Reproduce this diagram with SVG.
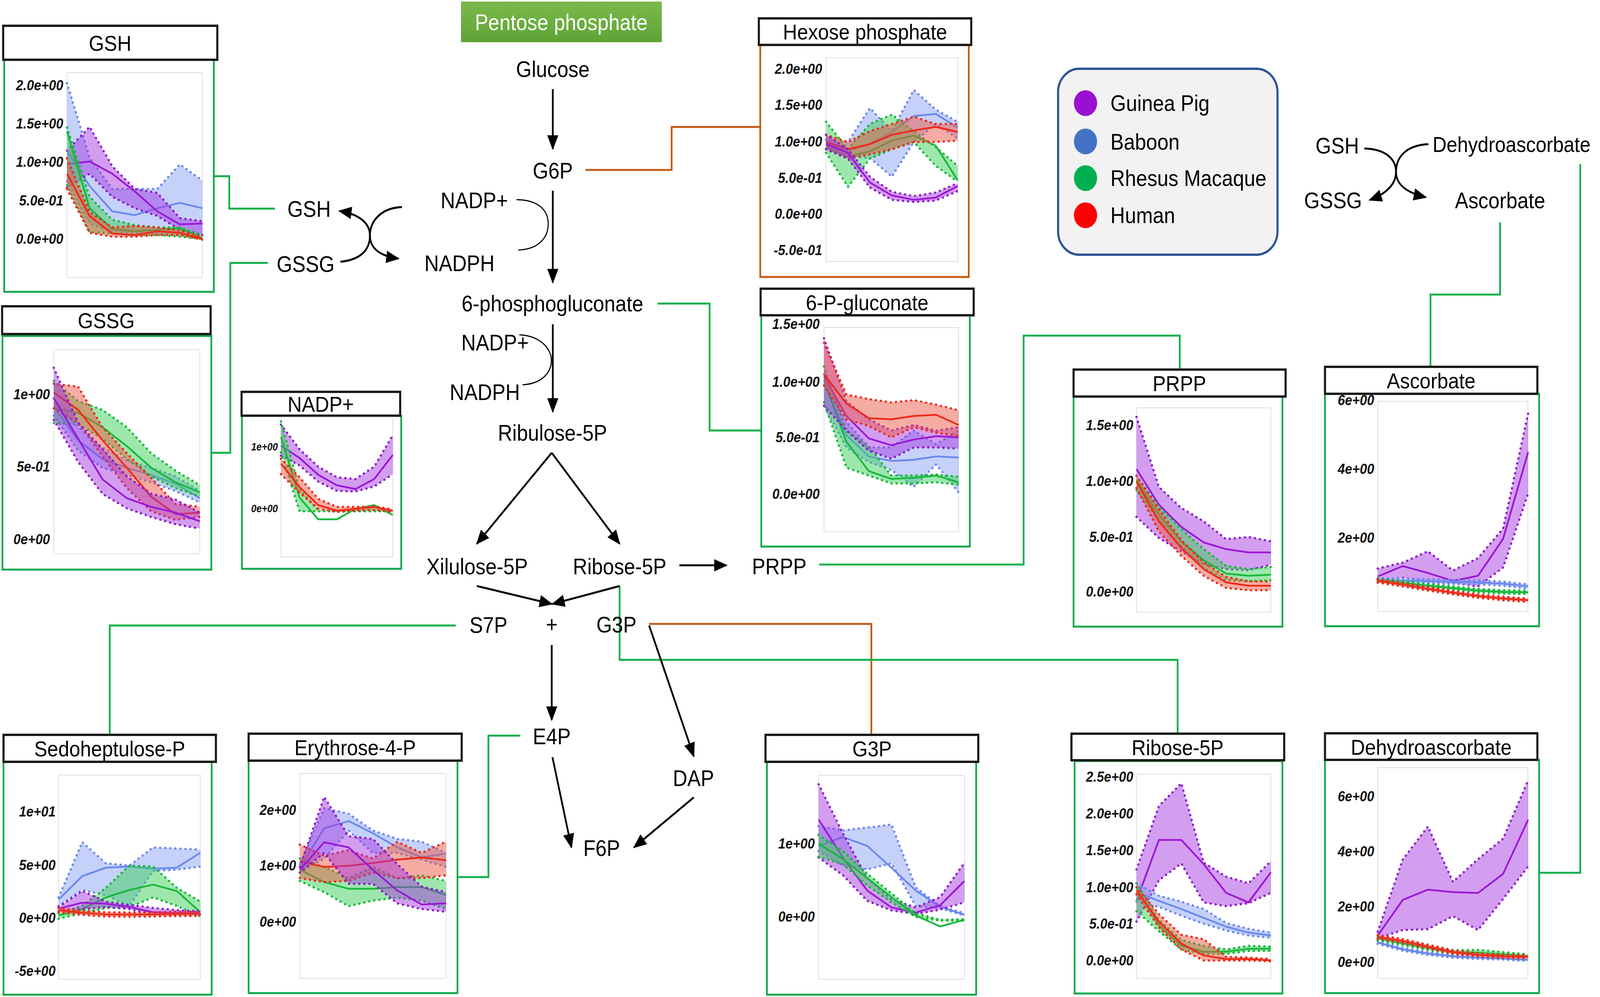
<svg xmlns="http://www.w3.org/2000/svg" width="4550" height="2552" viewBox="0 0 4550 2552">
<defs>
<linearGradient id="pg" x1="0" y1="0" x2="0" y2="1"><stop offset="0" stop-color="#7cb94c"/><stop offset="1" stop-color="#5ea336"/></linearGradient>
<marker id="ah" viewBox="0 0 12 10" refX="11" refY="5" markerWidth="38" markerHeight="32" markerUnits="userSpaceOnUse" orient="auto"><path d="M0,0 L12,5 L0,10 z" fill="#000"/></marker>
<style>
text{font-family:"Liberation Sans",Arial,sans-serif;fill:#000}
.lb{font-size:57px;text-anchor:middle}
.ls{font-size:57px}
.tt{font-size:56px;text-anchor:middle}
.tk{font-size:37px;font-weight:bold;font-style:italic;text-anchor:end;fill:#111}
.tks{font-size:27px;font-weight:bold;font-style:italic;text-anchor:end;fill:#111}
.tb{fill:#fff;stroke:#1a1a1a;stroke-width:6}
.gb{fill:#fff;stroke:#12a84a;stroke-width:5}
.ob{fill:#fff;stroke:#c55a11;stroke-width:5}
.pl{fill:#fff;stroke:#dcdcdc;stroke-width:2}
.cg{fill:none;stroke:#12b04a;stroke-width:5}
.co{fill:none;stroke:#c55a11;stroke-width:5}
.ar{fill:none;stroke:#000;stroke-width:5;marker-end:url(#ah)}
.arc{fill:none;stroke:#000;stroke-width:3}
.fp{fill:#a335e0;fill-opacity:.48}
.fb{fill:#7f98f2;fill-opacity:.45}
.fg{fill:#3ccf5a;fill-opacity:.5}
.fr{fill:#ec5a45;fill-opacity:.5}
.lp,.lb2,.lg,.lr{fill:none;stroke-width:4.5;vector-effect:non-scaling-stroke;stroke-linejoin:round}
.lp{stroke:#9b18d8}.lb2{stroke:#6a88f0}.lg{stroke:#18b83c}.lr{stroke:#ee2a1a}
.dp,.db,.dg,.dr{fill:none;stroke-width:6;stroke-dasharray:0 13;stroke-linecap:round;vector-effect:non-scaling-stroke}
.dp{stroke:#8e1bd0}.db{stroke:#6a88f0}.dg{stroke:#14b838}.dr{stroke:#ee2a1a}
</style>
</defs>
<rect width="4550" height="2552" fill="#fff"/>
<g id="diagram" transform="scale(0.9002,1)">

<g id="connectors">
<path class="cg" d="M604,451 H652 V534 H782"/>
<path class="cg" d="M600,1159 H655 V673 H762"/>
<path class="co" d="M1665,435 H1910 V325 H2162"/>
<path class="cg" d="M1870,777 H2018 V1102 H2165"/>
<path class="cg" d="M2330,1445 H2911 V859 H3355 V946"/>
<path class="cg" d="M4266,569 V754 H4068 V939"/>
<path class="cg" d="M4494,420 V2234 H4377"/>
<path class="cg" d="M1296,1601 H312 V1881"/>
<path class="cg" d="M1480,1883 H1389 V2245 H1300"/>
<path class="co" d="M1846,1597 H2478 V1881"/>
<path class="cg" d="M1762,1500 V1689 H3349 V1878"/>
<path class="ar" d="M1572,228 V381"/>
<path class="ar" d="M1572,488 V723"/>
<path class="ar" d="M1572,830 V1054"/>
<path class="ar" d="M1569,1159 L1356,1392"/>
<path class="ar" d="M1569,1159 L1762,1392"/>
<path class="ar" d="M1932,1447 H2066"/>
<path class="ar" d="M1356,1500 L1569,1546"/>
<path class="ar" d="M1762,1500 L1571,1546"/>
<path class="ar" d="M1569,1651 V1843"/>
<path class="ar" d="M1846,1601 L1973,1936"/>
<path class="ar" d="M1571,1938 L1625,2169"/>
<path class="ar" d="M1973,2041 L1803,2169"/>
<path class="arc" d="M1469,511 C1540,512 1560,545 1559,575 C1558,610 1530,638 1474,640"/>
<path class="arc" d="M1477,857 C1540,860 1568,895 1568,922 C1568,955 1540,982 1486,985"/>
<path class="ar" d="M968,670 C1025,665 1052,640 1052,603 C1052,570 1020,548 965,540"/>
<path class="ar" d="M1143,530 C1085,532 1052,565 1052,603 C1052,635 1080,655 1133,662"/>
<path class="ar" d="M3880,380 C3945,382 3970,410 3970,440 C3970,470 3945,495 3895,512"/>
<path class="ar" d="M4062,369 C3995,372 3970,405 3970,440 C3970,470 3995,492 4055,505"/>
</g>

<g id="pathway-title"><rect x="1311" y="4" width="571" height="104" fill="url(#pg)"/><text class="lb" x="1596" y="77" style="fill:#fff">Pentose phosphate</text></g>
<g id="metabolites">
<text class="lb" x="1572" y="197">Glucose</text>
<text class="lb" x="1572" y="457">G6P</text>
<text class="ls" x="1253" y="533">NADP+</text>
<text class="ls" x="1207" y="694">NADPH</text>
<text class="lb" x="1571" y="797">6-phosphogluconate</text>
<text class="ls" x="1312" y="897">NADP+</text>
<text class="ls" x="1279" y="1024">NADPH</text>
<text class="lb" x="1571" y="1128">Ribulose-5P</text>
<text class="lb" x="1357" y="1470">Xilulose-5P</text>
<text class="lb" x="1762" y="1470">Ribose-5P</text>
<text class="lb" x="2216" y="1470">PRPP</text>
<text class="lb" x="1389" y="1620">S7P</text>
<text class="lb" x="1569" y="1618">+</text>
<text class="lb" x="1753" y="1619">G3P</text>
<text class="lb" x="1569" y="1905">E4P</text>
<text class="lb" x="1972" y="2012">DAP</text>
<text class="lb" x="1711" y="2191">F6P</text>
<text class="lb" x="879" y="555">GSH</text>
<text class="lb" x="869" y="696">GSSG</text>
<text class="lb" x="3803" y="393">GSH</text>
<text class="ls" x="4074" y="389" style="font-size:55px">Dehydroascorbate</text>
<text class="lb" x="3791" y="533">GSSG</text>
<text class="lb" x="4266" y="533">Ascorbate</text>
</g>

<g id="legend">
<rect x="3009" y="176" width="624" height="476" rx="60" ry="60" fill="#f2f2f2" stroke="#2f5597" stroke-width="6"/>
<circle cx="3087" cy="264" r="33" fill="#9a10d0"/>
<circle cx="3087" cy="362" r="33" fill="#4472c4"/>
<circle cx="3087" cy="456" r="33" fill="#00b050"/>
<circle cx="3087" cy="551" r="33" fill="#ff0000"/>
<text class="ls" x="3158" y="284">Guinea Pig</text>
<text class="ls" x="3158" y="383">Baboon</text>
<text class="ls" x="3158" y="476">Rhesus Macaque</text>
<text class="ls" x="3158" y="571">Human</text>
</g>

<g id="chart-gsh">
<rect class="gb" x="12" y="153" width="596" height="594"/>
<rect class="tb" x="9" y="66" width="609" height="87"/>
<text class="tt" x="313" y="130">GSH</text>
<rect class="pl" x="190.6" y="185.8" width="385" height="525"/>
<text class="tk" x="180" y="231">2.0e+00</text><text class="tk" x="180" y="329">1.5e+00</text><text class="tk" x="180" y="427">1.0e+00</text><text class="tk" x="180" y="526">5.0e-01</text><text class="tk" x="180" y="624">0.0e+00</text>
<g transform="translate(190.6,621.4) scale(64.17,-196.5)">
<polygon class="fb" points="0,2.08 1,1.11 2,0.7 3,0.7 4,0.7 5,1.02 6,0.81 6,0.08 5,0.1 4,0.12 3,0.12 2,0.15 1,0.25 0,0.8"/>
<polyline class="db" points="0,2.08 1,1.11 2,0.7 3,0.7 4,0.7 5,1.02 6,0.81"/><polyline class="db" points="0,0.8 1,0.25 2,0.15 3,0.12 4,0.12 5,0.1 6,0.08"/>
<polyline class="lb2" points="0,1.2 1,0.74 2,0.41 3,0.36 4,0.45 5,0.52 6,0.45"/>
<polygon class="fp" points="0,1.2 1,1.51 2,1.0 3,0.7 4,0.65 5,0.32 6,0.28 6,0.1 5,0.17 4,0.35 3,0.45 2,0.6 1,0.9 0,0.72"/>
<polyline class="dp" points="0,1.2 1,1.51 2,1.0 3,0.7 4,0.65 5,0.32 6,0.28"/><polyline class="dp" points="0,0.72 1,0.9 2,0.6 3,0.45 4,0.35 5,0.17 6,0.1"/>
<polyline class="lp" points="0,1.02 1,1.06 2,0.9 3,0.67 4,0.41 5,0.24 6,0.25"/>
<polygon class="fg" points="0,1.5 1,0.6 2,0.3 3,0.23 4,0.2 5,0.2 6,0.1 6,0.05 5,0.08 4,0.1 3,0.1 2,0.12 1,0.14 0,0.75"/>
<polyline class="dg" points="0,1.5 1,0.6 2,0.3 3,0.23 4,0.2 5,0.2 6,0.1"/><polyline class="dg" points="0,0.75 1,0.14 2,0.12 3,0.1 4,0.1 5,0.08 6,0.05"/>
<polyline class="lg" points="0,1.45 1,0.45 2,0.18 3,0.15 4,0.17 5,0.19 6,0.06"/>
<polygon class="fr" points="0,1.1 1,0.4 2,0.2 3,0.22 4,0.2 5,0.16 6,0.08 6,0.04 5,0.1 4,0.1 3,0.08 2,0.08 1,0.13 0,0.7"/>
<polyline class="dr" points="0,1.1 1,0.4 2,0.2 3,0.22 4,0.2 5,0.16 6,0.08"/><polyline class="dr" points="0,0.7 1,0.13 2,0.08 3,0.08 4,0.1 5,0.1 6,0.04"/>
<polyline class="lr" points="0,0.9 1,0.35 2,0.12 3,0.1 4,0.15 5,0.13 6,0.05"/>
</g>
</g>

<g id="chart-gssg">
<rect class="gb" x="7" y="860" width="594" height="598"/>
<rect class="tb" x="6" y="784" width="593" height="71"/>
<text class="tt" x="302" y="840">GSSG</text>
<rect class="pl" x="153" y="895.5" width="415" height="522"/>
<text class="tk" x="142" y="1022">1e+00</text><text class="tk" x="142" y="1207">5e-01</text><text class="tk" x="142" y="1393">0e+00</text>
<g transform="translate(153,1390) scale(69.2,-370.6)">
<polygon class="fb" points="0,1.0 1,0.8 2,0.66 3,0.57 4,0.52 5,0.46 6,0.36 6,0.28 5,0.36 4,0.42 3,0.47 2,0.52 1,0.64 0,0.88"/>
<polyline class="db" points="0,1.0 1,0.8 2,0.66 3,0.57 4,0.52 5,0.46 6,0.36"/><polyline class="db" points="0,0.88 1,0.64 2,0.52 3,0.47 4,0.42 5,0.36 6,0.28"/>
<polyline class="lb2" points="0,0.94 1,0.71 2,0.58 3,0.52 4,0.47 5,0.41 6,0.31"/>
<polygon class="fg" points="0,1.12 1,0.98 2,0.92 3,0.8 4,0.62 5,0.5 6,0.4 6,0.32 5,0.38 4,0.46 3,0.58 2,0.72 1,0.82 0,0.83"/>
<polyline class="dg" points="0,1.12 1,0.98 2,0.92 3,0.8 4,0.62 5,0.5 6,0.4"/><polyline class="dg" points="0,0.83 1,0.82 2,0.72 3,0.58 4,0.46 5,0.38 6,0.32"/>
<polyline class="lg" points="0,0.93 1,0.9 2,0.8 3,0.67 4,0.52 5,0.42 6,0.35"/>
<polygon class="fr" points="0,1.1 1,1.08 2,0.8 3,0.62 4,0.45 5,0.27 6,0.25 6,0.18 5,0.16 4,0.22 3,0.38 2,0.6 1,0.83 0,0.93"/>
<polyline class="dr" points="0,1.1 1,1.08 2,0.8 3,0.62 4,0.45 5,0.27 6,0.25"/><polyline class="dr" points="0,0.93 1,0.83 2,0.6 3,0.38 4,0.22 5,0.16 6,0.18"/>
<polyline class="lr" points="0,1.04 1,0.92 2,0.71 3,0.52 4,0.32 5,0.2 6,0.21"/>
<polygon class="fp" points="0,1.21 1,0.83 2,0.65 3,0.46 4,0.34 5,0.3 6,0.21 6,0.1 5,0.13 4,0.18 3,0.24 2,0.34 1,0.56 0,0.85"/>
<polyline class="dp" points="0,1.21 1,0.83 2,0.65 3,0.46 4,0.34 5,0.3 6,0.21"/><polyline class="dp" points="0,0.85 1,0.56 2,0.34 3,0.24 4,0.18 5,0.13 6,0.1"/>
<polyline class="lp" points="0,1.0 1,0.72 2,0.44 3,0.31 4,0.25 5,0.21 6,0.15"/>
</g>
</g>

<g id="chart-nadp">
<rect class="gb" x="688" y="1064" width="453" height="392"/>
<rect class="tb" x="687" y="1003" width="451" height="61"/>
<text class="tt" x="912" y="1054">NADP+</text>
<rect class="pl" x="799" y="1067.7" width="318" height="358"/>
<text class="tks" x="790" y="1153">1e+00</text><text class="tks" x="790" y="1311">0e+00</text>
<g transform="translate(799,1308.7) scale(53,-158.4)">
<polygon class="fp" points="0,1.4 1,1.0 2,0.72 3,0.55 4,0.52 5,0.72 6,1.23 6,0.6 5,0.4 4,0.32 3,0.33 2,0.48 1,0.74 0,0.9"/>
<polyline class="dp" points="0,1.4 1,1.0 2,0.72 3,0.55 4,0.52 5,0.72 6,1.23"/><polyline class="dp" points="0,0.9 1,0.74 2,0.48 3,0.33 4,0.32 5,0.4 6,0.6"/>
<polyline class="lp" points="0,1.06 1,0.86 2,0.59 3,0.42 4,0.36 5,0.52 6,0.91"/>
<polygon class="fg" points="0,1.45 1,0.35 2,0.02 3,0.02 4,0.04 5,0.05 6,0.02 6,0 5,0 4,0 3,0 2,0 1,0 0,0.95"/>
<polyline class="dg" points="0,1.45 1,0.35 2,0.02"/><polyline class="dg" points="0,0.95 1,0 2,0 3,0 4,0 5,0 6,0"/>
<polyline class="lg" points="0,1.2 1,0.22 2,-0.13 3,-0.13 4,0.04 5,0.1 6,-0.06"/>
<polygon class="fr" points="0,0.85 1,0.55 2,0.2 3,0.07 4,0.07 5,0.08 6,0.03 6,-0.01 5,0.02 4,0.01 3,-0.01 2,0.04 1,0.3 0,0.6"/>
<polyline class="dr" points="0,0.85 1,0.55 2,0.2 3,0.07 4,0.07 5,0.08 6,0.03"/><polyline class="dr" points="0,0.6 1,0.3 2,0.04 3,-0.01 4,0.01 5,0.02 6,-0.01"/>
<polyline class="lr" points="0,0.77 1,0.39 2,0.1 3,0.01 4,0.04 5,0.07 6,0.01"/>
</g>
</g>

<g id="chart-hexose">
<rect class="ob" x="2162" y="115" width="593" height="594"/>
<rect class="tb" x="2158" y="47" width="604" height="68"/>
<text class="tt" x="2460" y="101">Hexose phosphate</text>
<rect class="pl" x="2349" y="148" width="375" height="521"/>
<text class="tk" x="2338" y="189">2.0e+00</text><text class="tk" x="2338" y="281">1.5e+00</text><text class="tk" x="2338" y="375">1.0e+00</text><text class="tk" x="2338" y="468">5.0e-01</text><text class="tk" x="2338" y="560">0.0e+00</text><text class="tk" x="2338" y="653">-5.0e-01</text>
<g transform="translate(2349,557.6) scale(62.4,-184.8)">
<polygon class="fb" points="0,1.08 1,1.05 2,1.52 3,1.2 4,1.77 5,1.5 6,1.33 6,1.1 5,1.3 4,1.05 3,0.57 2,0.83 1,0.85 0,0.95"/>
<polyline class="db" points="0,1.08 1,1.05 2,1.52 3,1.2 4,1.77 5,1.5 6,1.33"/><polyline class="db" points="0,0.95 1,0.85 2,0.83 3,0.57 4,1.05 5,1.3 6,1.1"/>
<polyline class="lb2" points="0,1.04 1,0.92 2,1.03 3,1.19 4,1.41 5,1.44 6,1.25"/>
<polygon class="fg" points="0,1.33 1,0.95 2,1.3 3,1.43 4,1.2 5,0.98 6,0.72 6,0.5 5,0.72 4,1.05 3,0.95 2,0.82 1,0.43 0,0.9"/>
<polyline class="dg" points="0,1.33 1,0.95 2,1.3 3,1.43 4,1.2 5,0.98 6,0.72"/><polyline class="dg" points="0,0.9 1,0.43 2,0.82 3,0.95 4,1.05 5,0.72 6,0.5"/>
<polyline class="lg" points="0,0.98 1,0.85 2,0.92 3,1.07 4,1.14 5,1.0 6,0.52"/>
<polygon class="fr" points="0,1.15 1,1.05 2,1.2 3,1.3 4,1.4 5,1.3 6,1.3 6,1.07 5,1.05 4,1.05 3,0.95 2,0.88 1,0.82 0,0.95"/>
<polyline class="dr" points="0,1.15 1,1.05 2,1.2 3,1.3 4,1.4 5,1.3 6,1.3"/><polyline class="dr" points="0,0.95 1,0.82 2,0.88 3,0.95 4,1.05 5,1.05 6,1.07"/>
<polyline class="lr" points="0,1.05 1,0.95 2,1.02 3,1.15 4,1.21 5,1.26 6,1.19"/>
<polygon class="fp" points="0,1.15 1,0.95 2,0.57 3,0.36 4,0.3 5,0.35 6,0.48 6,0.37 5,0.24 4,0.22 3,0.25 2,0.42 1,0.82 0,0.95"/>
<polyline class="dp" points="0,1.15 1,0.95 2,0.57 3,0.36 4,0.3 5,0.35 6,0.48"/><polyline class="dp" points="0,0.95 1,0.82 2,0.42 3,0.25 4,0.22 5,0.24 6,0.37"/>
<polyline class="lp" points="0,1.02 1,0.9 2,0.49 3,0.31 4,0.25 5,0.28 6,0.44"/>
</g>
</g>

<g id="chart-6pg">
<rect class="gb" x="2165" y="807" width="593" height="592"/>
<rect class="tb" x="2163" y="739" width="606" height="68"/>
<text class="tt" x="2466" y="794">6-P-gluconate</text>
<rect class="pl" x="2343.3" y="838.3" width="383" height="523"/>
<text class="tk" x="2331" y="842">1.5e+00</text><text class="tk" x="2331" y="990">1.0e+00</text><text class="tk" x="2331" y="1132">5.0e-01</text><text class="tk" x="2331" y="1277">0.0e+00</text>
<g transform="translate(2343.3,1274.9) scale(63.8,-288)">
<polygon class="fb" points="0,1.1 1,0.68 2,0.45 3,0.45 4,0.6 5,0.48 6,0.6 6,0.05 5,0.3 4,0.1 3,0.25 2,0.32 1,0.45 0,0.82"/>
<polyline class="db" points="0,1.1 1,0.68 2,0.45 3,0.45 4,0.6 5,0.48 6,0.6"/><polyline class="db" points="0,0.82 1,0.45 2,0.32 3,0.25 4,0.1 5,0.3 6,0.05"/>
<polyline class="lb2" points="0,1.02 1,0.56 2,0.37 3,0.33 4,0.34 5,0.37 6,0.36"/>
<polygon class="fg" points="0,1.17 1,0.6 2,0.46 3,0.2 4,0.2 5,0.21 6,0.19 6,0.12 5,0.14 4,0.13 3,0.13 2,0.2 1,0.27 0,0.85"/>
<polyline class="dg" points="0,1.17 1,0.6 2,0.46 3,0.2 4,0.2 5,0.21 6,0.19"/><polyline class="dg" points="0,0.85 1,0.27 2,0.2 3,0.13 4,0.13 5,0.14 6,0.12"/>
<polyline class="lg" points="0,1.05 1,0.5 2,0.24 3,0.17 4,0.18 5,0.2 6,0.14"/>
<polygon class="fp" points="0,1.42 1,0.86 2,0.7 3,0.6 4,0.65 5,0.6 6,0.63 6,0.44 5,0.45 4,0.45 3,0.35 2,0.42 1,0.6 0,0.82"/>
<polyline class="dp" points="0,1.42 1,0.86 2,0.7 3,0.6 4,0.65 5,0.6 6,0.63"/><polyline class="dp" points="0,0.82 1,0.6 2,0.42 3,0.35 4,0.45 5,0.45 6,0.44"/>
<polyline class="lp" points="0,1.08 1,0.73 2,0.53 3,0.47 4,0.52 5,0.55 6,0.54"/>
<polygon class="fr" points="0,1.38 1,0.92 2,0.88 3,0.85 4,0.87 5,0.83 6,0.78 6,0.55 5,0.58 4,0.63 3,0.54 2,0.64 1,0.7 0,1.0"/>
<polyline class="dr" points="0,1.38 1,0.92 2,0.88 3,0.85 4,0.87 5,0.83 6,0.78"/><polyline class="dr" points="0,1.0 1,0.7 2,0.64 3,0.54 4,0.63 5,0.58 6,0.55"/>
<polyline class="lr" points="0,1.1 1,0.84 2,0.71 3,0.7 4,0.73 5,0.74 6,0.65"/>
</g>
</g>

<g id="chart-prpp">
<rect class="gb" x="3053" y="1015" width="594" height="589"/>
<rect class="tb" x="3053" y="946" width="603" height="69"/>
<text class="tt" x="3354" y="1001">PRPP</text>
<rect class="pl" x="3232" y="1044" width="382" height="523"/>
<text class="tk" x="3223" y="1101">1.5e+00</text><text class="tk" x="3223" y="1244">1.0e+00</text><text class="tk" x="3223" y="1387">5.0e-01</text><text class="tk" x="3223" y="1527">0.0e+00</text>
<g transform="translate(3232,1524.9) scale(63.7,-284.2)">
<polygon class="fp" points="0,1.61 1,0.98 2,0.79 3,0.67 4,0.51 5,0.53 6,0.49 6,0.28 5,0.23 4,0.24 3,0.28 2,0.4 1,0.52 0,0.71"/>
<polyline class="dp" points="0,1.61 1,0.98 2,0.79 3,0.67 4,0.51 5,0.53 6,0.49"/><polyline class="dp" points="0,0.71 1,0.52 2,0.4 3,0.28 4,0.24 5,0.23 6,0.28"/>
<polyline class="lp" points="0,1.14 1,0.82 2,0.62 3,0.48 4,0.42 5,0.39 6,0.39"/>
<polygon class="fg" points="0,1.08 1,0.8 2,0.6 3,0.42 4,0.27 5,0.24 6,0.26 6,0.14 5,0.13 4,0.14 3,0.25 2,0.44 1,0.68 0,0.95"/>
<polyline class="dg" points="0,1.08 1,0.8 2,0.6 3,0.42 4,0.27 5,0.24 6,0.26"/><polyline class="dg" points="0,0.95 1,0.68 2,0.44 3,0.25 4,0.14 5,0.13 6,0.14"/>
<polyline class="lg" points="0,1.04 1,0.73 2,0.49 3,0.32 4,0.2 5,0.18 6,0.19"/>
<polygon class="fr" points="0,1.08 1,0.78 2,0.5 3,0.3 4,0.17 5,0.13 6,0.13 6,0.05 5,0.05 4,0.07 3,0.18 2,0.36 1,0.58 0,0.97"/>
<polyline class="dr" points="0,1.08 1,0.78 2,0.5 3,0.3 4,0.17 5,0.13 6,0.13"/><polyline class="dr" points="0,0.97 1,0.58 2,0.36 3,0.18 4,0.07 5,0.05 6,0.05"/>
<polyline class="lr" points="0,1.03 1,0.67 2,0.43 3,0.24 4,0.12 5,0.09 6,0.09"/>
</g>
</g>

<g id="chart-ascorbate">
<rect class="gb" x="3768" y="1008" width="609" height="595"/>
<rect class="tb" x="3768" y="939" width="604" height="69"/>
<text class="tt" x="4070" y="994">Ascorbate</text>
<rect class="pl" x="3918" y="1027" width="427" height="538"/>
<text class="tk" x="3908" y="1037">6e+00</text><text class="tk" x="3908" y="1213">4e+00</text><text class="tk" x="3908" y="1389">2e+00</text>
<g transform="translate(3918,1562.8) scale(71.3,-88.2)">
<polygon class="fp" points="0,1.22 1,1.39 2,1.72 3,1.16 4,1.52 5,2.38 6,5.72 6,3.4 5,1.25 4,0.7 3,0.8 2,0.85 1,0.95 0,0.88"/>
<polyline class="dp" points="0,1.22 1,1.39 2,1.72 3,1.16 4,1.52 5,2.38 6,5.72"/><polyline class="dp" points="0,0.88 1,0.95 2,0.85 3,0.8 4,0.7 5,1.25 6,3.4"/>
<polyline class="lp" points="0,0.99 1,1.29 2,1.09 3,0.86 4,1.01 5,2.08 6,4.6"/>
<polygon class="fb" points="0,0.94 1,0.93 2,0.91 3,0.89 4,0.88 5,0.84 6,0.76 6,0.64 5,0.72 4,0.76 3,0.77 2,0.79 1,0.81 0,0.82"/>
<polyline class="db" points="0,0.94 1,0.93 2,0.91 3,0.89 4,0.88 5,0.84 6,0.76"/><polyline class="db" points="0,0.82 1,0.81 2,0.79 3,0.77 4,0.76 5,0.72 6,0.64"/>
<polyline class="lb2" points="0,0.88 1,0.87 2,0.85 3,0.83 4,0.82 5,0.78 6,0.7"/>
<polygon class="fg" points="0,0.93 1,0.85 2,0.77 3,0.7 4,0.63 5,0.59 6,0.58 6,0.48 5,0.49 4,0.53 3,0.6 2,0.67 1,0.75 0,0.83"/>
<polyline class="dg" points="0,0.93 1,0.85 2,0.77 3,0.7 4,0.63 5,0.59 6,0.58"/><polyline class="dg" points="0,0.83 1,0.75 2,0.67 3,0.6 4,0.53 5,0.49 6,0.48"/>
<polyline class="lg" points="0,0.88 1,0.8 2,0.72 3,0.65 4,0.58 5,0.54 6,0.53"/>
<polygon class="fr" points="0,0.91 1,0.8 2,0.68 3,0.57 4,0.47 5,0.4 6,0.35 6,0.25 5,0.3 4,0.37 3,0.47 2,0.58 1,0.7 0,0.81"/>
<polyline class="dr" points="0,0.91 1,0.8 2,0.68 3,0.57 4,0.47 5,0.4 6,0.35"/><polyline class="dr" points="0,0.81 1,0.7 2,0.58 3,0.47 4,0.37 5,0.3 6,0.25"/>
<polyline class="lr" points="0,0.86 1,0.75 2,0.63 3,0.52 4,0.42 5,0.35 6,0.3"/>
</g>
</g>

<g id="chart-sedoheptulose">
<rect class="gb" x="10" y="1950" width="592" height="596"/>
<rect class="tb" x="10" y="1881" width="604" height="69"/>
<text class="tt" x="312" y="1936">Sedoheptulose-P</text>
<rect class="pl" x="166.7" y="1983.6" width="403" height="523"/>
<text class="tk" x="158" y="2090">1e+01</text><text class="tk" x="158" y="2227">5e+00</text><text class="tk" x="158" y="2362">0e+00</text><text class="tk" x="158" y="2498">-5e+00</text>
<g transform="translate(166.7,2359.6) scale(67.2,-27.2)">
<polygon class="fb" points="0,2.3 1,7.5 2,5.5 3,5.3 4,7.0 5,6.9 6,6.8 6,5.2 5,4.9 4,4.8 3,1.5 2,2.5 1,3.0 0,1.5"/>
<polyline class="db" points="0,2.3 1,7.5 2,5.5 3,5.3 4,7.0 5,6.9 6,6.8"/><polyline class="db" points="0,1.5 1,3.0 2,2.5 3,1.5 4,4.8 5,4.9 6,5.2"/>
<polyline class="lb2" points="0,2.1 1,4.3 2,5.1 3,5.2 4,5.0 5,5.1 6,6.5"/>
<polygon class="fg" points="0,0.8 1,1.5 2,3.2 3,5.3 4,5.2 5,3.2 6,1.9 6,0.5 5,1.5 4,2.3 3,1.4 2,1.3 1,0.8 0,0.3"/>
<polyline class="dg" points="0,0.8 1,1.5 2,3.2 3,5.3 4,5.2 5,3.2 6,1.9"/><polyline class="dg" points="0,0.3 1,0.8 2,1.3 3,1.4 4,2.3 5,1.5 6,0.5"/>
<polyline class="lg" points="0,0.6 1,1.2 2,2.3 3,3.0 4,3.5 5,2.9 6,0.9"/>
<polygon class="fp" points="0,1.4 1,2.9 2,1.9 3,1.6 4,1.3 5,1.1 6,1.0 6,0.7 5,0.7 4,0.7 3,1.2 2,1.4 1,1.2 0,1.0"/>
<polyline class="dp" points="0,1.4 1,2.9 2,1.9 3,1.6 4,1.3 5,1.1 6,1.0"/><polyline class="dp" points="0,1.0 1,1.2 2,1.4 3,1.2 4,0.7 5,0.7 6,0.7"/>
<polyline class="lp" points="0,1.25 1,1.8 2,1.7 3,1.4 4,0.9 5,0.85 6,0.85"/>
<polygon class="fr" points="0,1.3 1,1.05 2,0.9 3,0.88 4,0.9 5,0.95 6,0.95 6,0.55 5,0.55 4,0.5 3,0.48 2,0.5 1,0.65 0,0.9"/>
<polyline class="dr" points="0,1.3 1,1.05 2,0.9 3,0.88 4,0.9 5,0.95 6,0.95"/><polyline class="dr" points="0,0.9 1,0.65 2,0.5 3,0.48 4,0.5 5,0.55 6,0.55"/>
<polyline class="lr" points="0,1.1 1,0.85 2,0.7 3,0.68 4,0.7 5,0.75 6,0.75"/>
</g>
</g>

<g id="chart-erythrose">
<rect class="gb" x="707" y="1947" width="594" height="595"/>
<rect class="tb" x="707" y="1878" width="606" height="69"/>
<text class="tt" x="1010" y="1933">Erythrose-4-P</text>
<rect class="pl" x="852.7" y="1980" width="416" height="524"/>
<text class="tk" x="842" y="2086">2e+00</text><text class="tk" x="842" y="2228">1e+00</text><text class="tk" x="842" y="2372">0e+00</text>
<g transform="translate(852.7,2369.7) scale(69.3,-143.4)">
<polygon class="fb" points="0,1.1 1,2.1 2,2.0 3,1.7 4,1.55 5,1.5 6,1.3 6,1.05 5,1.18 4,1.3 3,1.3 2,1.7 1,1.2 0,0.95"/>
<polyline class="db" points="0,1.1 1,2.1 2,2.0 3,1.7 4,1.55 5,1.5 6,1.3"/><polyline class="db" points="0,0.95 1,1.2 2,1.7 3,1.3 4,1.3 5,1.18 6,1.05"/>
<polyline class="lb2" points="0,1.03 1,1.74 2,1.87 3,1.65 4,1.4 5,1.22 6,1.29"/>
<polygon class="fg" points="0,1.2 1,1.05 2,0.85 3,1.05 4,0.85 5,0.9 6,0.8 6,0.3 5,0.45 4,0.5 3,0.45 2,0.35 1,0.6 0,0.8"/>
<polyline class="dg" points="0,1.2 1,1.05 2,0.85 3,1.05 4,0.85 5,0.9 6,0.8"/><polyline class="dg" points="0,0.8 1,0.6 2,0.35 3,0.45 4,0.5 5,0.45 6,0.3"/>
<polyline class="lg" points="0,1.0 1,0.78 2,0.66 3,0.66 4,0.69 5,0.69 6,0.55"/>
<polygon class="fr" points="0,1.45 1,1.25 2,1.35 3,1.2 4,1.5 5,1.3 6,1.5 6,0.9 5,0.85 4,0.85 3,0.95 2,0.8 1,0.78 0,0.85"/>
<polyline class="dr" points="0,1.45 1,1.25 2,1.35 3,1.2 4,1.5 5,1.3 6,1.5"/><polyline class="dr" points="0,0.85 1,0.78 2,0.8 3,0.95 4,0.85 5,0.85 6,0.9"/>
<polyline class="lr" points="0,1.15 1,1.05 2,1.07 3,1.12 4,1.18 5,1.22 6,1.17"/>
<polygon class="fp" points="0,1.05 1,2.3 2,1.6 3,1.55 4,1.1 5,0.7 6,0.6 6,0.25 5,0.3 4,0.4 3,0.75 2,0.75 1,1.3 0,0.95"/>
<polyline class="dp" points="0,1.05 1,2.3 2,1.6 3,1.55 4,1.1 5,0.7 6,0.6"/><polyline class="dp" points="0,0.95 1,1.3 2,0.75 3,0.75 4,0.4 5,0.3 6,0.25"/>
<polyline class="lp" points="0,1.0 1,1.49 2,1.4 3,1.0 4,0.63 5,0.38 6,0.4"/>
</g>
</g>

<g id="chart-g3p">
<rect class="gb" x="2181" y="1950" width="595" height="596"/>
<rect class="tb" x="2177" y="1881" width="605" height="69"/>
<text class="tt" x="2480" y="1936">G3P</text>
<rect class="pl" x="2328" y="1984.5" width="415" height="522"/>
<text class="tk" x="2317" y="2172">1e+00</text><text class="tk" x="2317" y="2359">0e+00</text>
<g transform="translate(2328,2356.5) scale(69.1,-187.6)">
<polygon class="fb" points="0,1.29 1,1.23 2,1.27 3,1.31 4,0.45 5,0.2 6,0.1 6,0.07 5,0.17 4,0.2 3,0.78 2,0.7 1,0.75 0,0.95"/>
<polyline class="db" points="0,1.29 1,1.23 2,1.27 3,1.31 4,0.45 5,0.2 6,0.1"/><polyline class="db" points="0,0.95 1,0.75 2,0.7 3,0.78 4,0.2 5,0.17 6,0.07"/>
<polyline class="lb2" points="0,1.02 1,1.14 2,1.02 3,0.72 4,0.41 5,0.19 6,0.08"/>
<polygon class="fp" points="0,1.86 1,1.19 2,0.58 3,0.29 4,0.18 5,0.32 6,0.79 6,0.25 5,0.15 4,0.09 3,0.14 2,0.27 1,0.62 0,0.86"/>
<polyline class="dp" points="0,1.86 1,1.19 2,0.58 3,0.29 4,0.18 5,0.32 6,0.79"/><polyline class="dp" points="0,0.86 1,0.62 2,0.27 3,0.14 4,0.09 5,0.15 6,0.25"/>
<polyline class="lp" points="0,1.38 1,0.86 2,0.41 3,0.18 4,0.11 5,0.21 6,0.54"/>
<polygon class="fg" points="0,1.17 1,0.95 2,0.64 3,0.37 4,0.1 5,0.01 6,0.02 6,0 5,0 4,0.05 3,0.25 2,0.48 1,0.77 0,0.87"/>
<polyline class="dg" points="0,1.17 1,0.95 2,0.64 3,0.37 4,0.1 5,0.01 6,0.02"/><polyline class="dg" points="0,0.87 1,0.77 2,0.48 3,0.25 4,0.05 5,0 6,0"/>
<polyline class="lg" points="0,1.05 1,0.84 2,0.58 3,0.32 4,0.07 5,-0.08 6,0.01"/>
</g>
</g>

<g id="chart-ribose">
<rect class="gb" x="3056" y="1948" width="591" height="595"/>
<rect class="tb" x="3047" y="1878" width="605" height="68"/>
<text class="tt" x="3349" y="1933">Ribose-5P</text>
<rect class="pl" x="3232" y="1981.4" width="382" height="523"/>
<text class="tk" x="3223" y="2001">2.5e+00</text><text class="tk" x="3223" y="2095">2.0e+00</text><text class="tk" x="3223" y="2189">1.5e+00</text><text class="tk" x="3223" y="2284">1.0e+00</text><text class="tk" x="3223" y="2377">5.0e-01</text><text class="tk" x="3223" y="2471">0.0e+00</text>
<g transform="translate(3232,2468) scale(63.7,-188.2)">
<polygon class="fp" points="0,1.29 1,2.15 2,2.46 3,1.38 4,1.19 5,1.1 6,1.4 6,0.97 5,0.83 4,0.79 3,0.84 2,1.37 1,1.14 0,0.58"/>
<polyline class="dp" points="0,1.29 1,2.15 2,2.46 3,1.38 4,1.19 5,1.1 6,1.4"/><polyline class="dp" points="0,0.58 1,1.14 2,1.37 3,0.84 4,0.79 5,0.83 6,0.97"/>
<polyline class="lp" points="0,0.86 1,1.69 2,1.69 3,1.36 4,0.97 5,0.84 6,1.25"/>
<polygon class="fb" points="0,1.1 1,0.93 2,0.85 3,0.75 4,0.56 5,0.48 6,0.43 6,0.36 5,0.39 4,0.46 3,0.55 2,0.66 1,0.78 0,0.85"/>
<polyline class="db" points="0,1.1 1,0.93 2,0.85 3,0.75 4,0.56 5,0.48 6,0.43"/><polyline class="db" points="0,0.85 1,0.78 2,0.66 3,0.55 4,0.46 5,0.39 6,0.36"/>
<polyline class="lb2" points="0,0.98 1,0.86 2,0.75 3,0.63 4,0.51 5,0.43 6,0.39"/>
<polygon class="fg" points="0,1.1 1,0.6 2,0.33 3,0.25 4,0.2 5,0.25 6,0.24 6,0.18 5,0.18 4,0.14 3,0.14 2,0.2 1,0.45 0,0.72"/>
<polyline class="dg" points="0,1.1 1,0.6 2,0.33 3,0.25 4,0.2 5,0.25 6,0.24"/><polyline class="dg" points="0,0.72 1,0.45 2,0.2 3,0.14 4,0.14 5,0.18 6,0.18"/>
<polyline class="lg" points="0,1.03 1,0.53 2,0.25 3,0.17 4,0.17 5,0.21 6,0.21"/>
<polygon class="fr" points="0,1.05 1,0.68 2,0.4 3,0.34 4,0.1 5,0.09 6,0.07 6,0.04 5,0.05 4,0.05 3,0.05 2,0.2 1,0.5 0,0.95"/>
<polyline class="dr" points="0,1.05 1,0.68 2,0.4 3,0.34 4,0.1 5,0.09 6,0.07"/><polyline class="dr" points="0,0.95 1,0.5 2,0.2 3,0.05 4,0.05 5,0.05 6,0.04"/>
<polyline class="lr" points="0,1.0 1,0.58 2,0.28 3,0.12 4,0.07 5,0.07 6,0.05"/>
</g>
</g>

<g id="chart-dehydroascorbate">
<rect class="gb" x="3768" y="1945" width="609" height="597"/>
<rect class="tb" x="3768" y="1877" width="604" height="68"/>
<text class="tt" x="4070" y="1932">Dehydroascorbate</text>
<rect class="pl" x="3918" y="1965" width="427" height="539"/>
<text class="tk" x="3908" y="2051">6e+00</text><text class="tk" x="3908" y="2192">4e+00</text><text class="tk" x="3908" y="2333">2e+00</text><text class="tk" x="3908" y="2475">0e+00</text>
<g transform="translate(3918,2472.5) scale(71.3,-70.76)">
<polygon class="fp" points="0,1.24 1,3.85 2,5.04 3,3.04 4,3.86 5,4.6 6,6.72 6,3.6 5,2.42 4,1.3 3,1.8 2,1.33 1,1.3 0,1.0"/>
<polyline class="dp" points="0,1.24 1,3.85 2,5.04 3,3.04 4,3.86 5,4.6 6,6.72"/><polyline class="dp" points="0,1.0 1,1.3 2,1.33 3,1.8 4,1.3 5,2.42 6,3.6"/>
<polyline class="lp" points="0,1.1 1,2.39 2,2.76 3,2.67 4,2.64 5,3.33 6,5.29"/>
<polygon class="fb" points="0,0.9 1,0.65 2,0.5 3,0.4 4,0.35 5,0.31 6,0.26 6,0.18 5,0.23 4,0.25 3,0.3 2,0.4 1,0.55 0,0.8"/>
<polyline class="db" points="0,0.9 1,0.65 2,0.5 3,0.4 4,0.35 5,0.31 6,0.26"/><polyline class="db" points="0,0.8 1,0.55 2,0.4 3,0.3 4,0.25 5,0.23 6,0.18"/>
<polyline class="lb2" points="0,0.85 1,0.6 2,0.45 3,0.35 4,0.3 5,0.27 6,0.22"/>
<polygon class="fg" points="0,1.07 1,0.89 2,0.72 3,0.57 4,0.58 5,0.5 6,0.42 6,0.28 5,0.35 4,0.4 3,0.43 2,0.58 1,0.75 0,0.93"/>
<polyline class="dg" points="0,1.07 1,0.89 2,0.72 3,0.57 4,0.58 5,0.5 6,0.42"/><polyline class="dg" points="0,0.93 1,0.75 2,0.58 3,0.43 4,0.4 5,0.35 6,0.28"/>
<polyline class="lg" points="0,1.0 1,0.82 2,0.65 3,0.5 4,0.48 5,0.42 6,0.35"/>
<polygon class="fr" points="0,1.12 1,0.97 2,0.77 3,0.57 4,0.46 5,0.41 6,0.39 6,0.27 5,0.29 4,0.34 3,0.43 2,0.63 1,0.83 0,0.98"/>
<polyline class="dr" points="0,1.12 1,0.97 2,0.77 3,0.57 4,0.46 5,0.41 6,0.39"/><polyline class="dr" points="0,0.98 1,0.83 2,0.63 3,0.43 4,0.34 5,0.29 6,0.27"/>
<polyline class="lr" points="0,1.05 1,0.9 2,0.7 3,0.5 4,0.4 5,0.35 6,0.33"/>
</g>
</g>

</g>
</svg>
